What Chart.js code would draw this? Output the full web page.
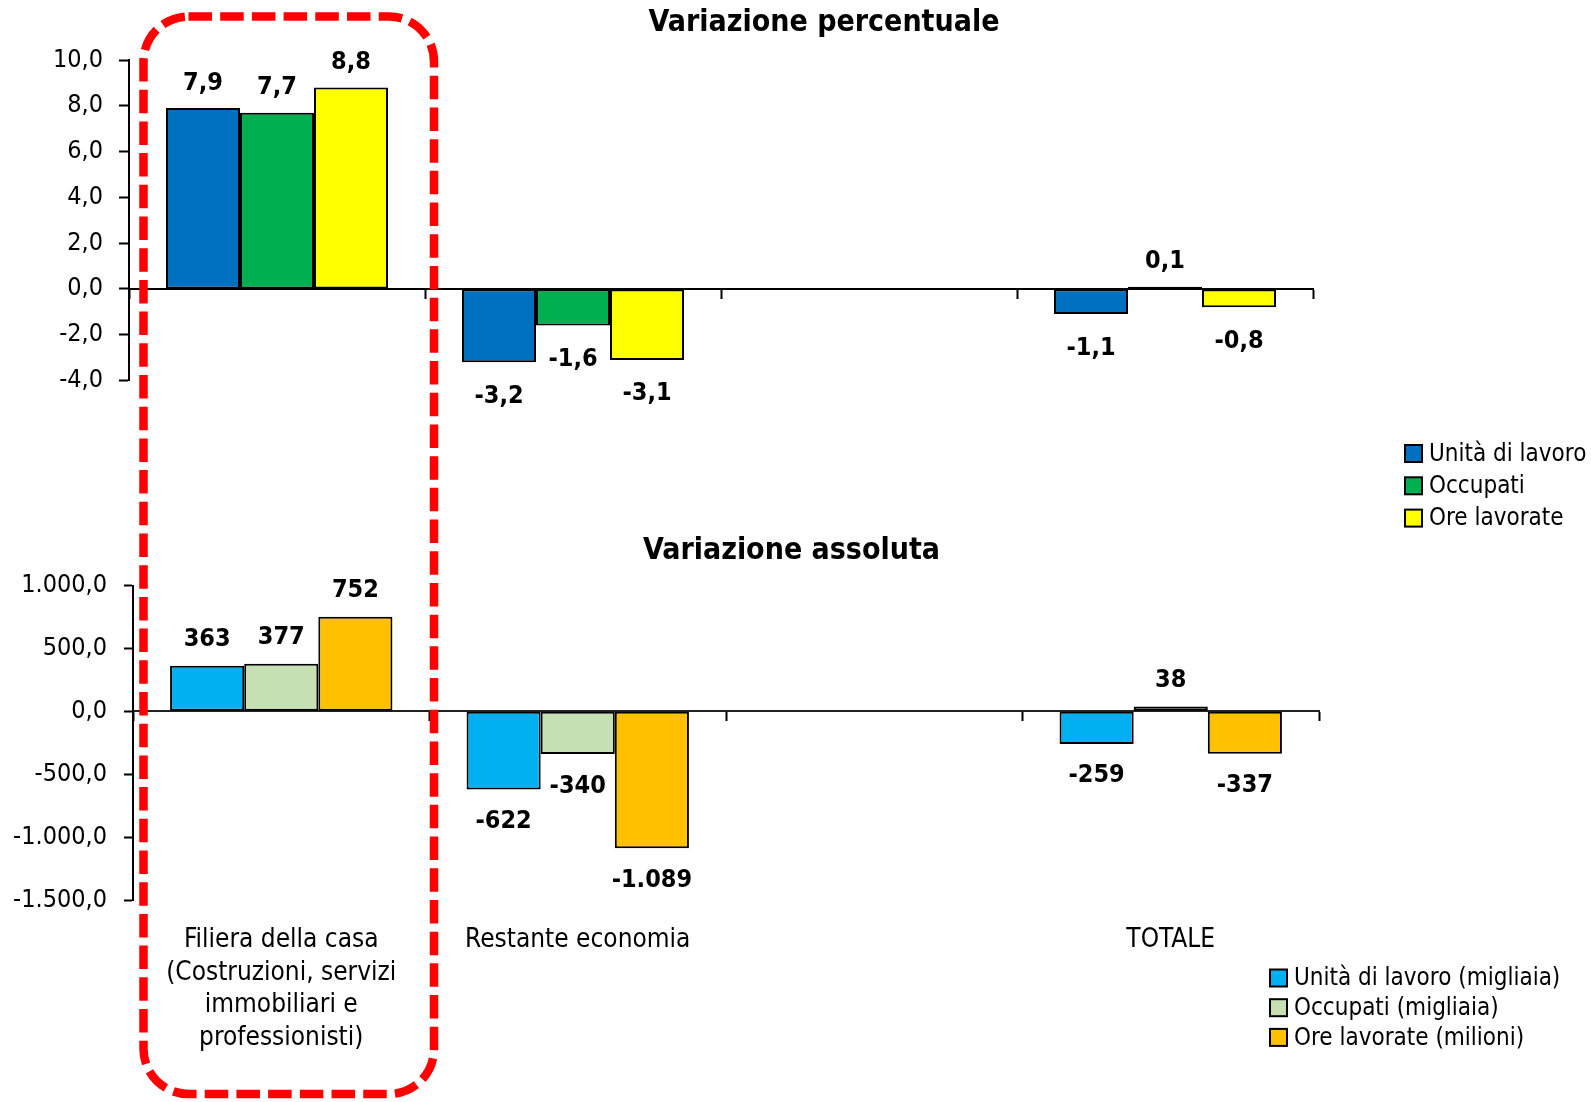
<!DOCTYPE html>
<html>
<head>
<meta charset="utf-8">
<script src="https://cdn.jsdelivr.net/npm/chart.js@4.4.1/dist/chart.umd.min.js"></script>
<style>
html, body { margin: 0; padding: 0; background: #fff; overflow: hidden; }
#wrap { position: relative; width: 1591px; height: 1102px; overflow: hidden; }
#topChart { position: absolute; left: 0; top: 0; }
#botChart { position: absolute; left: 0; top: 520px; }
#frame { position: absolute; left: 0; top: 0; pointer-events: none; }
</style>
</head>
<body>
<div id="wrap">
	<canvas id="topChart" width="1648" height="540"></canvas>
	<canvas id="botChart" width="1591" height="582"></canvas>
	<svg id="frame" width="1591" height="1102">
		<rect x="143.5" y="16.5" width="290.5" height="1077.5" rx="45" ry="45"
			fill="none" stroke="#ff0000" stroke-width="8.5" stroke-dasharray="23.5 8.2"/>
	</svg>
</div>
<script>
// categorie e serie
const categories = [
	['Filiera della casa', '(Costruzioni, servizi', 'immobiliari e', 'professionisti)'],
	'Restante economia',
	'',
	'TOTALE'
];

// variazione percentuale
const pctUnita = [7.9, -3.2, null, -1.1];
const pctOccupati = [7.7, -1.6, null, 0.1];
const pctOre = [8.8, -3.1, null, -0.8];

// variazione assoluta
const absUnita = [363, -622, null, -259];
const absOccupati = [377, -340, null, 38];
const absOre = [752, -1089, null, -337];

const FONT = '"Liberation Sans Narrow", "Arial Narrow", "DejaVu Sans Condensed", sans-serif';
Chart.defaults.font.family = FONT;
Chart.defaults.color = '#000';

// formato italiano: 1.000,0
function fmtIt(v, dec) {
	const neg = v < 0;
	const parts = Math.abs(v).toFixed(dec).split('.');
	const int = parts[0].replace(/\B(?=(\d{3})+(?!\d))/g, '.');
	return (neg ? '-' : '') + int + (parts[1] ? ',' + parts[1] : '');
}

// etichette dei valori sopra / sotto le barre
const valueLabels = {
	id: 'valueLabels',
	afterDatasetsDraw(chart, args, opts) {
		const ctx = chart.ctx;
		ctx.save();
		ctx.font = 'bold 25px ' + FONT;
		ctx.fillStyle = '#000';
		ctx.textAlign = 'center';
		ctx.textBaseline = 'middle';
		chart.data.datasets.forEach((ds, i) => {
			chart.getDatasetMeta(i).data.forEach((bar, j) => {
				const v = ds.data[j];
				if (v === null || v === undefined) return;
				const y = v >= 0 ? bar.y - opts.above : bar.y + opts.below;
				ctx.fillText(fmtIt(v, opts.decimals), bar.x, y);
			});
		});
		ctx.restore();
	}
};

// legenda con quadratini, posizionata liberamente
const boxLegend = {
	id: 'boxLegend',
	afterDraw(chart, args, opts) {
		const ctx = chart.ctx;
		ctx.save();
		ctx.font = '24px ' + FONT;
		ctx.textAlign = 'left';
		ctx.textBaseline = 'middle';
		chart.data.datasets.forEach((ds, i) => {
			const cy = opts.y + i * opts.gap;
			const top = cy - opts.box / 2;
			ctx.fillStyle = ds.backgroundColor;
			ctx.fillRect(opts.x, top, opts.box, opts.box);
			ctx.lineWidth = 2;
			ctx.strokeStyle = '#000';
			ctx.strokeRect(opts.x, top, opts.box, opts.box);
			ctx.fillStyle = '#000';
			ctx.fillText(ds.label, opts.x + opts.box + 7, cy + 1);
		});
		ctx.restore();
	}
};

const barStyle = {
	borderColor: '#000',
	borderWidth: 2,
	borderSkipped: false,
	barPercentage: 1,
	categoryPercentage: 0.75
};

// spazio riservato a destra (per centrare il titolo come nell'originale)
function spacer(w) {
	return {
		position: 'right', display: true, min: 0, max: 1,
		grid: { display: false, drawTicks: false },
		border: { display: false },
		ticks: { display: false },
		afterFit(s) { s.width = w; }
	};
}

// 1. Variazione percentuale
new Chart(document.getElementById('topChart'), {
	type: 'bar',
	data: {
		labels: categories,
		datasets: [
			{ label: 'Unità di lavoro', data: pctUnita, backgroundColor: '#0070C0', ...barStyle },
			{ label: 'Occupati', data: pctOccupati, backgroundColor: '#00B050', ...barStyle },
			{ label: 'Ore lavorate', data: pctOre, backgroundColor: '#FFFF00', ...barStyle }
		]
	},
	plugins: [valueLabels, boxLegend],
	options: {
		responsive: false,
		animation: false,
		layout: { padding: { left: 0, right: 0, top: 0, bottom: 159.5 } },
		plugins: {
			legend: { display: false },
			tooltip: { enabled: false },
			title: {
				display: true,
				text: 'Variazione percentuale',
				font: { size: 30, weight: 'bold', lineHeight: 1.2 },
				padding: { top: 5, bottom: 19 }
			},
			valueLabels: { above: 25, below: 34, decimals: 1 },
			boxLegend: { x: 1405, y: 453.5, gap: 32.3, box: 17 }
		},
		scales: {
			x: {
				position: { y: 0 },
				offset: true,
				grid: { offset: true, drawOnChartArea: false, tickLength: 9, tickColor: '#000', tickWidth: 2 },
				border: { color: '#000', width: 2 },
				ticks: { display: false }
			},
			y: {
				min: -4,
				max: 10,
				ticks: { stepSize: 2, padding: 16, font: { size: 25 }, callback: v => fmtIt(v, 1) },
				grid: { drawOnChartArea: false, tickLength: 10, tickColor: '#000', tickWidth: 2 },
				border: { color: '#000', width: 2 },
				afterFit(s) { s.width = 129; }
			},
			yR: spacer(335)
		}
	}
});

// 2. Variazione assoluta
new Chart(document.getElementById('botChart'), {
	type: 'bar',
	data: {
		labels: categories,
		datasets: [
			{ label: 'Unità di lavoro (migliaia)', data: absUnita, backgroundColor: '#00B0F0', ...barStyle },
			{ label: 'Occupati (migliaia)', data: absOccupati, backgroundColor: '#C6E0B4', ...barStyle },
			{ label: 'Ore lavorate (milioni)', data: absOre, backgroundColor: '#FFC000', ...barStyle }
		]
	},
	plugins: [valueLabels, boxLegend],
	options: {
		responsive: false,
		animation: false,
		layout: { padding: { left: 0, right: 8, top: 0, bottom: 24 } },
		plugins: {
			legend: { display: false },
			tooltip: { enabled: false },
			title: {
				display: true,
				text: 'Variazione assoluta',
				font: { size: 30, weight: 'bold', lineHeight: 1.2 },
				padding: { top: 13.5, bottom: 16 }
			},
			valueLabels: { above: 26, below: 32, decimals: 0 },
			boxLegend: { x: 1270, y: 458, gap: 29.7, box: 17 }
		},
		scales: {
			x: {
				position: { y: 0 },
				offset: true,
				grid: { offset: true, drawOnChartArea: false, tickLength: 9, tickColor: '#000', tickWidth: 2 },
				border: { color: '#222', width: 2 },
				ticks: { display: false }
			},
			x2: {
				type: 'category',
				position: 'bottom',
				offset: true,
				grid: { display: false, drawTicks: false },
				border: { display: false },
				ticks: { padding: 24, maxRotation: 0, autoSkip: false, font: { size: 26, lineHeight: 1.25 } }
			},
			y: {
				min: -1500,
				max: 1000,
				ticks: { stepSize: 500, padding: 17, font: { size: 25 }, callback: v => fmtIt(v, 1) },
				grid: { drawOnChartArea: false, tickLength: 9, tickColor: '#000', tickWidth: 2 },
				border: { color: '#000', width: 2 },
				afterFit(s) { s.width = 133; }
			},
			yR: spacer(264)
		}
	}
});
</script>
</body>
</html>
